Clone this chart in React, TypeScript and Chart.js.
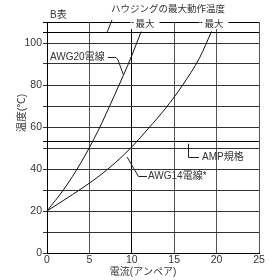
import { useEffect, useRef } from 'react';
import { Chart, registerables } from 'chart.js';

Chart.register(...registerables);

// ---- data ----
const awg20Current = [0, 2, 4, 6, 8, 10, 11.1];
const awg20Temp = [20, 30.4, 43, 58, 75.5, 94, 105.5];
const awg14Current = [0, 2, 4, 6, 8, 10, 12, 14, 16, 18, 19.4];
const awg14Temp = [20, 25.2, 30.5, 36.2, 42.8, 50.5, 59.5, 69, 80, 93, 105.5];
const xTickValues = [0, 5, 10, 15, 20, 25];
const yTickValues = [0, 10, 20, 30, 40, 50, 53, 60, 70, 80, 90, 100, 105, 110];
const yLabelValues = [0, 20, 40, 60, 80, 100];
const housingMaxTemp = 105;
const ampSpecTemp = 53;
const xTitle = '電流(アンペア)';
const yTitle = '温度(℃)';
const tableTitle = 'B表';
const housingLabel = 'ハウジングの最大動作温度';
const maxLabel = '最大';
const awg20Label = 'AWG20電線';
const awg14Label = 'AWG14電線*';
const ampLabel = 'AMP規格';

const FONT = '"Liberation Sans", "Noto Sans CJK JP", sans-serif';
const TEXT = '#333';

const toPoints = (xs: number[], ys: number[]) => xs.map((x, i) => ({ x, y: ys[i] }));

const annotations = {
  id: 'annotations',
  afterDraw(chart: any) {
    const ctx = chart.ctx as CanvasRenderingContext2D;
    const ys = chart.scales.y;
    const ca = chart.chartArea;
    ctx.save();
    ctx.fillStyle = TEXT;
    ctx.strokeStyle = '#222';
    ctx.lineWidth = 1;
    const text = (s: string, x: number, y: number, size: number, align: CanvasTextAlign = 'left') => {
      ctx.font = `${size}px ${FONT}`;
      ctx.textAlign = align;
      ctx.textBaseline = 'middle';
      ctx.fillText(s, x, y);
    };
    const line = (pts: number[][]) => {
      ctx.beginPath();
      ctx.moveTo(pts[0][0], pts[0][1]);
      for (let i = 1; i < pts.length; i++) ctx.lineTo(pts[i][0], pts[i][1]);
      ctx.stroke();
    };

    // table title
    text(tableTitle, 50, 15, 10);

    // housing max label + leader
    text(housingLabel, 168, 9, 9.5, 'center');
    const yHousing = ys.getPixelForValue(housingMaxTemp);
    line([[107, yHousing], [112, ca.top - 2]]);

    // "最大" labels on top border with white background
    const topY = ys.getPixelForValue(110);
    const maxAt = (cx: number) => {
      ctx.font = `9.5px ${FONT}`;
      const w = ctx.measureText(maxLabel).width;
      ctx.fillStyle = '#fff';
      ctx.fillRect(cx - w / 2 - 5, topY - 4, w + 10, 11);
      ctx.fillStyle = TEXT;
      text(maxLabel, cx, topY + 2.5, 9.5, 'center');
      ctx.beginPath();
      ctx.moveTo(cx - w / 2 - 4, topY + 0.5);
      ctx.lineTo(cx - w / 2 - 2, topY + 0.5);
      ctx.stroke();
    };
    maxAt(145);
    maxAt(214);

    // AWG20 label
    text(awg20Label, 50, 57, 10);
    line([[108, 57.5], [116, 57.5], [118, 60], [123.5, 75]]);

    // AWG14 label
    text(awg14Label, 148, 176, 10);
    line([[127, 157], [138.5, 176.5], [147, 176.5]]);

    // AMP label
    const yAmp = ys.getPixelForValue(ampSpecTemp);
    line([[188.5, yAmp + 2], [188.5, 157.5], [199, 157.5]]);
    text(ampLabel, 202, 157, 10);

    // axis titles
    text(xTitle, 143, 272.5, 10, 'center');
    ctx.save();
    ctx.translate(22, 113);
    ctx.rotate(-Math.PI / 2);
    text(yTitle, 0, 0, 10.5, 'center');
    ctx.restore();

    ctx.restore();
  },
};

export default function App() {
  const ref = useRef<HTMLCanvasElement>(null);
  useEffect(() => {
    const chart = new Chart(ref.current!, {
      type: 'line',
      data: {
        datasets: [
          {
            data: toPoints(awg20Current, awg20Temp),
            borderColor: '#111',
            borderWidth: 1,
            pointRadius: 0,
            cubicInterpolationMode: 'monotone',
            fill: false,
          },
          {
            data: toPoints(awg14Current, awg14Temp),
            borderColor: '#111',
            borderWidth: 1,
            pointRadius: 0,
            cubicInterpolationMode: 'monotone',
            fill: false,
          },
        ],
      },
      options: {
        responsive: false,
        animation: false,
        devicePixelRatio: 1,
        layout: { padding: { top: 22, left: 0, right: 10, bottom: 0 } },
        plugins: { legend: { display: false }, tooltip: { enabled: false } },
        scales: {
          x: {
            type: 'linear',
            min: 0,
            max: 25,
            afterFit: (s: any) => { s.height = 27; },
            afterBuildTicks: (s: any) => { s.ticks = xTickValues.map((v) => ({ value: v })); },
            ticks: {
              autoSkip: false,
              maxRotation: 0,
              padding: 1,
              color: TEXT,
              font: { family: FONT, size: 10.5 },
            },
            grid: {
              drawTicks: false,
              color: (c: any) => (c.tick && c.tick.value === 10 ? '#000' : '#555'),
              lineWidth: 1,
            },
            border: { color: '#000', width: 1 },
          },
          y: {
            type: 'linear',
            min: 0,
            max: 110,
            afterFit: (s: any) => { s.width = 47; },
            afterBuildTicks: (s: any) => { s.ticks = yTickValues.map((v) => ({ value: v })); },
            ticks: {
              autoSkip: false,
              padding: 1,
              color: TEXT,
              font: { family: FONT, size: 10.5 },
              callback: (v: any) => (yLabelValues.includes(Number(v)) ? String(v) : ''),
            },
            grid: {
              drawTicks: true,
              tickLength: 4,
              color: (c: any) => {
                const v = c.tick && c.tick.value;
                if (v === 105 || v === 110 || v === ampSpecTemp) return '#000';
                return '#333';
              },
              lineWidth: 1,
            },
            border: { color: '#000', width: 1 },
          },
        },
      },
      plugins: [annotations],
    } as any);
    return () => chart.destroy();
  }, []);
  return (
    <div style={{ position: 'fixed', left: 0, top: 0, width: 269, height: 280, background: '#fff' }}>
      <canvas ref={ref} width={269} height={280} style={{ width: 269, height: 280, display: 'block' }} />
    </div>
  );
}
